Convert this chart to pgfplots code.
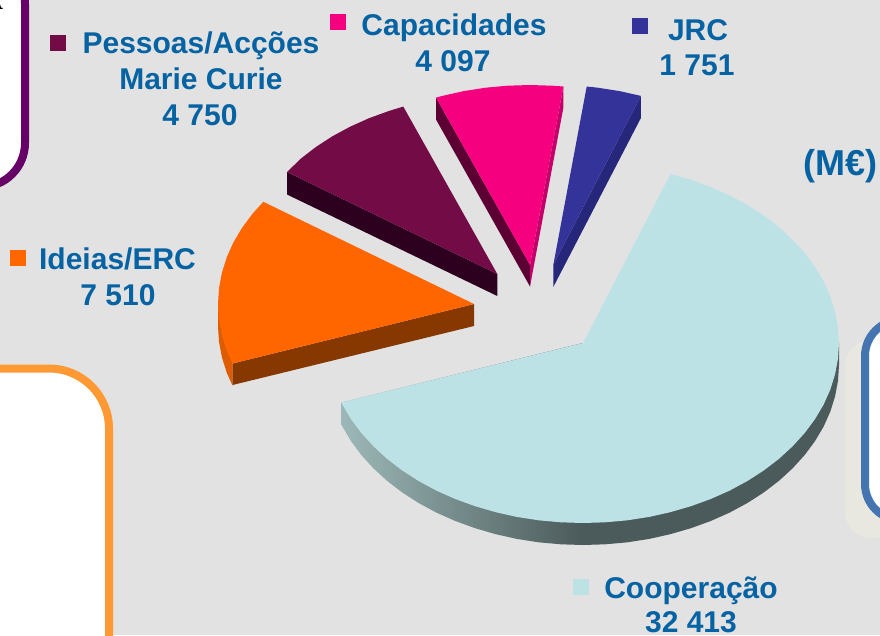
\documentclass[border=0pt]{standalone}
\usepackage{fontspec}
\setmainfont{Liberation Sans}
\newfontfamily\serifbold{Liberation Serif}
\usepackage{pgfplots}
\pgfplotsset{compat=1.18}

\definecolor{bggrey}{HTML}{E2E2E2}
\definecolor{labelblue}{HTML}{0563A3}
\definecolor{coop}{HTML}{BDE2E5}
\definecolor{coopdark}{HTML}{4B5A5A}
\definecolor{cooplight}{HTML}{9DB8B8}
\definecolor{ideias}{HTML}{FF6600}
\definecolor{ideiasside}{HTML}{873800}
\definecolor{ideiasrim}{HTML}{DD5C00}
\definecolor{pessoas}{HTML}{720B46}
\definecolor{pessoasside}{HTML}{2D001F}
\definecolor{capac}{HTML}{F5007F}
\definecolor{capacleft}{HTML}{5C0033}
\definecolor{capacright}{HTML}{C4006A}
\definecolor{jrc}{HTML}{333399}
\definecolor{jrcside}{HTML}{26267A}

\newcommand{\lab}[1]{\fontsize{30}{36}\selectfont\bfseries\color{labelblue}#1}

\begin{document}
\begin{tikzpicture}
\begin{axis}[
  width=880pt, height=635pt, scale only axis,
  xmin=0, xmax=880, ymin=0, ymax=635,
  y dir=reverse,
  hide axis,
  clip=true,
  every node/.style={inner sep=0pt, outer sep=0pt},
]
% background
\addplot[fill=bggrey, draw=none] coordinates {(0,0) (880,0) (880,635) (0,635)} -- cycle;

% boxes around the chart, cut by the picture edge
\addplot[fill=white, draw={rgb,255:red,102;green,0;blue,102}, line width=8pt, rounded corners=44pt]
  coordinates {(-120,-40) (25,-40) (25,187) (-120,187)} -- cycle;
\addplot[fill=white, draw={rgb,255:red,255;green,153;blue,51}, line width=8pt, rounded corners=60pt]
  coordinates {(-120,368.5) (109,368.5) (109,720) (-120,720)} -- cycle;
\addplot[fill={rgb,255:red,232;green,232;blue,224}, draw=none, rounded corners=26pt]
  coordinates {(845,340) (960,340) (960,538) (845,538)} -- cycle;
\addplot[fill=white, draw={rgb,255:red,68;green,117;blue,176}, line width=8pt, rounded corners=36pt]
  coordinates {(865,320) (980,320) (980,520) (865,520)} -- cycle;

% Cooperacao: rim, left part shaded, right part flat
\addplot[draw=none, left color=cooplight, right color=coopdark] coordinates {
  (583,343) (341.5,402.5) (341.5,424.5) (342.4,426.6) (351,441.1) (361.3,455) (373.3,468.2)
  (386.9,480.7) (402,492.3) (418.4,502.9) (436.2,512.5) (455,520.9) (474.8,528.1)
  (495.4,534.1) (516.7,538.9) (538.6,542.3) (560.7,544.3) (583,545)} -- cycle;
\addplot[fill=coopdark, draw=none] coordinates {
  (583,343) (583,545) (605.3,544.3) (627.4,542.3) (649.3,538.9) (670.6,534.1) (691.2,528.1)
  (711,520.9) (729.8,512.5) (747.6,502.9) (764,492.3) (779.1,480.7) (792.7,468.2)
  (804.7,455) (815,441.1) (823.6,426.6) (830.3,411.6) (835.1,396.2) (838,380.7) (839,365) (839,343)} -- cycle;
% Cooperacao: top face
\addplot[fill=coop, draw=none] coordinates {
  (583,343) (670.6,173.9) (691.2,179.9) (711,187.1) (729.8,195.5) (747.6,205.1) (764,215.7)
  (779.1,227.3) (792.7,239.8) (804.7,253) (815,266.9) (823.6,281.4) (830.3,296.4)
  (835.1,311.8) (838,327.3) (839,343) (838,358.7) (835.1,374.2) (830.3,389.6) (823.6,404.6)
  (815,419.1) (804.7,433) (792.7,446.2) (779.1,458.7) (764,470.3) (747.6,480.9) (729.8,490.5)
  (711,498.9) (691.2,506.1) (670.6,512.1) (649.3,516.9) (627.4,520.3) (605.3,522.3) (583,523)
  (560.7,522.3) (538.6,520.3) (516.7,516.9) (495.4,512.1) (474.8,506.1) (455,498.9)
  (436.2,490.5) (418.4,480.9) (402,470.3) (386.9,458.7) (373.3,446.2) (361.3,433) (351,419.1)
  (342.4,404.6) (341.5,402.5)} -- cycle;

% Ideias/ERC
\addplot[fill=ideiasrim, draw=none] coordinates {
  (218,304) (218,326) (219,341.7) (221.9,357.2) (226.7,372.6) (232.5,385.5) (232.5,363.5)} -- cycle;
\addplot[fill=ideiasside, draw=none] coordinates {
  (232.5,363.5) (232.5,385) (474,326) (474,304)} -- cycle;
\addplot[fill=ideias, draw=none] coordinates {
  (474,304) (232.5,363.5) (226.7,350.6) (221.9,335.2) (219,319.7) (218,304) (219,288.3)
  (221.9,272.8) (226.7,257.4) (233.4,242.4) (242,227.9) (252.3,214) (263.3,201.8)} -- cycle;

% Pessoas
\addplot[fill=pessoasside, draw=none] coordinates {
  (287,172) (287,194.5) (497.3,296) (497.3,274)} -- cycle;
\addplot[fill=pessoas, draw=none] coordinates {
  (497.3,274) (287,172) (301.2,158.3) (316.3,146.7) (332.7,136.1) (350.5,126.5)
  (369.3,118.1) (389.1,110.9) (403.3,106.6)} -- cycle;

% Capacidades
\addplot[fill=capacleft, draw=none] coordinates {
  (436,97.6) (436,119.5) (530,286.5) (530,265)} -- cycle;
\addplot[fill=capacright, draw=none] coordinates {
  (563.4,86.5) (563.4,107.5) (530,286.5) (530,265)} -- cycle;
\addplot[fill=capac, draw=none] coordinates {
  (530,265) (436,97.6) (442.4,95.9) (463.7,91.1) (485.6,87.7) (507.7,85.7) (530,85)
  (552.3,85.7) (563.4,86.5)} -- cycle;

% JRC
\addplot[fill=jrcside, draw=none] coordinates {
  (640.9,95.9) (640.9,118) (553.3,287) (553.3,265)} -- cycle;
\addplot[fill=jrc, draw=none] coordinates {
  (553.3,265) (586.7,86.5) (597.7,87.7) (619.6,91.1) (640.9,95.9)} -- cycle;

% legend squares
\addplot[only marks, mark=square*, mark size=7.5pt, color=pessoas] coordinates {(58,42.5)};
\addplot[only marks, mark=square*, mark size=7.5pt, color=capac] coordinates {(338,22)};
\addplot[only marks, mark=square*, mark size=7.5pt, color=jrc] coordinates {(640,26)};
\addplot[only marks, mark=square*, mark size=7.5pt, color=ideias] coordinates {(18,257.5)};
\addplot[only marks, mark=square*, mark size=7.5pt, color=coop] coordinates {(581,587)};

% labels
\node[anchor=base] at (axis cs:201,53) {\lab{Pessoas/Acções}};
\node[anchor=base] at (axis cs:201,89) {\lab{Marie Curie}};
\node[anchor=base] at (axis cs:200,125) {\lab{4 750}};
\node[anchor=base] at (axis cs:454,35) {\lab{Capacidades}};
\node[anchor=base] at (axis cs:453,71) {\lab{4 097}};
\node[anchor=base] at (axis cs:698,40) {\lab{JRC}};
\node[anchor=base] at (axis cs:697,75) {\lab{1 751}};
\node[anchor=base] at (axis cs:117.5,269) {\lab{Ideias/ERC}};
\node[anchor=base] at (axis cs:118,305) {\lab{7 510}};
\node[anchor=base] at (axis cs:691,598) {\lab{Cooperação}};
\node[anchor=base] at (axis cs:691,632) {\lab{32 413}};
\node[anchor=base] at (axis cs:840.5,175) {\fontsize{36}{40}\selectfont\bfseries\color{labelblue}(M€)};

% letters of the boxes' text, cut by the edge
\node[overlay, anchor=base east] at (axis cs:6.5,9) {\fontsize{30}{36}\selectfont\serifbold\bfseries A};
\node[overlay, anchor=base east] at (axis cs:3.5,110) {\fontsize{30}{36}\selectfont\serifbold\bfseries s};
\end{axis}
\end{tikzpicture}
\end{document}
